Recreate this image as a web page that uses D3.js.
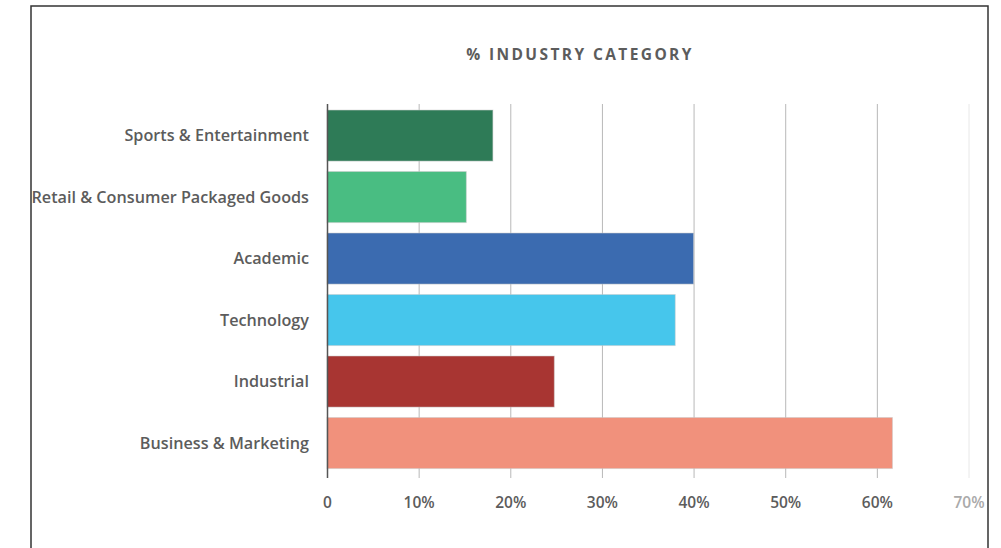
<!DOCTYPE html>
<html>
<head>
<meta charset="utf-8">
<script src="https://cdn.jsdelivr.net/npm/d3@7/dist/d3.min.js"></script>
<style>
  html, body { margin: 0; padding: 0; background: #fff; }
  svg { display: block; }
  text { font-family: "Open Sans", Lato, sans-serif; }
</style>
</head>
<body>
<svg id="chart" width="1001" height="548"></svg>
<script>
// Share of entries by industry category (percent)
const categories = [
  "Sports & Entertainment",
  "Retail & Consumer Packaged Goods",
  "Academic",
  "Technology",
  "Industrial",
  "Business & Marketing"
];
const values = [18.1, 15.2, 40.0, 38.0, 24.8, 61.7];
const barColors = ["#2e7b57", "#49bd82", "#3b6bb0", "#46c6ec", "#a83532", "#f1917c"];
const tickValues = [0, 10, 20, 30, 40, 50, 60, 70];
const tickLabels = ["0", "10%", "20%", "30%", "40%", "50%", "60%", "70%"];
const title = "% INDUSTRY CATEGORY";

const svg = d3.select("#chart");

const frame = { left: 31, top: 6, right: 988 };
const plot = { left: 327, right: 968.5, top: 104, bottom: 478 };

const x = d3.scaleLinear().domain([0, 70]).range([plot.left, plot.right]);
const y = d3.scaleBand()
  .domain(categories)
  .range([plot.top + 0.5, plot.top + 0.5 + 61.6 * categories.length])
  .paddingInner(0.17)
  .paddingOuter(0.09);

// clip region inside the frame
svg.append("defs").append("clipPath").attr("id", "inside")
  .append("rect").attr("x", frame.left).attr("y", frame.top)
  .attr("width", frame.right - frame.left).attr("height", 548 - frame.top);

const g = svg.append("g").attr("clip-path", "url(#inside)");

// title
g.append("text")
  .attr("x", 580).attr("y", 60)
  .attr("text-anchor", "middle")
  .attr("fill", "#5c5c5c")
  .attr("font-size", 15.5)
  .attr("font-weight", 700)
  .attr("letter-spacing", 2.4)
  .text(title);

// vertical gridlines
g.append("g").selectAll("line")
  .data(tickValues.slice(1))
  .join("line")
  .attr("x1", d => x(d) + 0.5).attr("x2", d => x(d) + 0.5)
  .attr("y1", plot.top).attr("y2", plot.bottom)
  .attr("stroke", d => d === 70 ? "#e8e8e8" : "#b8b8b8")
  .attr("stroke-width", 1);

// bars
g.append("g").selectAll("rect")
  .data(categories)
  .join("rect")
  .attr("x", x(0))
  .attr("y", d => y(d))
  .attr("width", (d, i) => x(values[i]) - x(0))
  .attr("height", y.bandwidth())
  .attr("fill", (d, i) => barColors[i])
  .attr("stroke", "#c9c9c9")
  .attr("stroke-opacity", 0.5)
  .attr("stroke-width", 1);

// baseline
g.append("line")
  .attr("x1", x(0) + 0.5).attr("x2", x(0) + 0.5)
  .attr("y1", plot.top).attr("y2", plot.bottom)
  .attr("stroke", "#555").attr("stroke-width", 1.5);

// category labels
g.append("g").selectAll("text")
  .data(categories)
  .join("text")
  .attr("x", 309)
  .attr("y", d => y(d) + y.bandwidth() / 2)
  .attr("dy", "0.35em")
  .attr("text-anchor", "end")
  .attr("fill", "#5c5c5c")
  .attr("font-size", 16.2)
  .attr("font-weight", 600)
  .text(d => d);

// tick labels
g.append("g").selectAll("text")
  .data(tickValues)
  .join("text")
  .attr("x", d => x(d) + 0.5)
  .attr("y", 503)
  .attr("dy", "0.35em")
  .attr("text-anchor", "middle")
  .attr("fill", d => d === 70 ? "#aaaaaa" : "#5c5c5c")
  .attr("font-size", 15.5)
  .attr("font-weight", 600)
  .text((d, i) => tickLabels[i]);

// frame
svg.append("path")
  .attr("d", `M${frame.left},548 V${frame.top} H${frame.right} V548`)
  .attr("fill", "none")
  .attr("stroke", "#333")
  .attr("stroke-width", 1.5);
</script>
</body>
</html>
